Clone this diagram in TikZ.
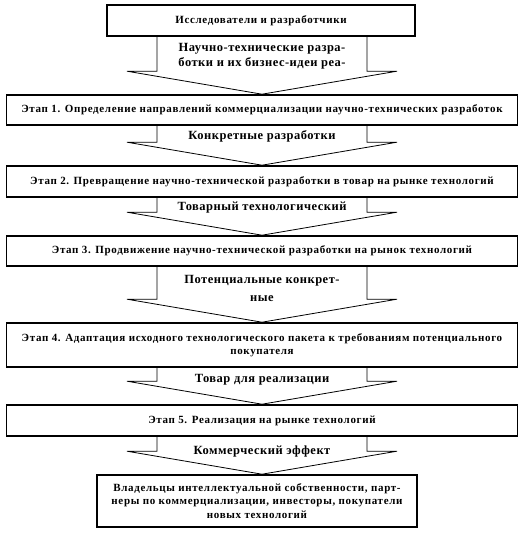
\documentclass[tikz,border=0pt]{standalone}
\usepackage{fontspec}
\setmainfont{Liberation Serif}
\usetikzlibrary{calc}
\begin{document}
\begin{tikzpicture}[x=1pt,y=-1pt,
  box/.style={draw, line width=1.6pt, font=\bfseries\fontsize{11}{13.2}\selectfont\addfontfeatures{LetterSpace=6}, align=center, inner sep=0pt},
  arr/.style={draw, line width=0.8pt, line join=miter},
  lbl/.style={font=\bfseries\fontsize{12.5}{15}\selectfont\addfontfeatures{LetterSpace=4}, align=center, inner sep=0pt}]
\useasboundingbox (0,0) rectangle (523,536);
\coordinate (ax) at (262,0);
\newcommand\barrow[2]{%
  \draw[arr] ($(#1.south -| ax)+(-105,0)$) -- ($(#2.north -| ax)+(-105,-23)$)
    -- ($(#2.north -| ax)+(-135,-23)$) -- (#2.north -| ax)
    -- ($(#2.north -| ax)+(135,-23)$) -- ($(#2.north -| ax)+(105,-23)$)
    -- ($(#1.south -| ax)+(105,0)$);}
\node[box, minimum width=308pt, minimum height=31pt] (r) at (261,20.5) {Исследователи и разработчики};
\node[box, minimum width=511pt, minimum height=30pt] (s1) at (262,110) {Этап 1. Определение направлений коммерциализации научно-технических разработок};
\node[box, minimum width=511pt, minimum height=31pt] (s2) at (262,181.5) {Этап 2. Превращение научно-технической разработки в товар на рынке технологий};
\node[box, minimum width=511pt, minimum height=30pt] (s3) at (262,251) {Этап 3. Продвижение научно-технической разработки на рынок технологий};
\node[box, minimum width=511pt, minimum height=44pt] (s4) at (262,345) {Этап 4. Адаптация исходного технологического пакета к требованиям потенциального\\покупателя};
\node[box, minimum width=511pt, minimum height=31pt] (s5) at (262,420.5) {Этап 5. Реализация на рынке технологий};
\node[box, minimum width=320pt, minimum height=52pt] (o) at (257,501) {Владельцы интеллектуальной собственности, парт-\\неры по коммерциализации, инвесторы, покупатели\\новых технологий};
\barrow{r}{s1}
\barrow{s1}{s2}
\barrow{s2}{s3}
\barrow{s3}{s4}
\barrow{s4}{s5}
\barrow{s5}{o}
\node[lbl] (l1) at (262,56.5) {Научно-технические разра-\\ботки и их бизнес-идеи реа-};
\node[lbl] (l2) at (262,136) {Конкретные разработки};
\node[lbl] (l3) at (262,208) {Товарный технологический};
\node[lbl, font=\bfseries\fontsize{12.5}{18}\selectfont\addfontfeatures{LetterSpace=4}] (l4) at (262,288) {Потенциальные конкрет-\\ные};
\node[lbl] (l5) at (262,380) {Товар для реализации};
\node[lbl] (l6) at (262,451) {Коммерческий эффект};
\end{tikzpicture}
\end{document}
